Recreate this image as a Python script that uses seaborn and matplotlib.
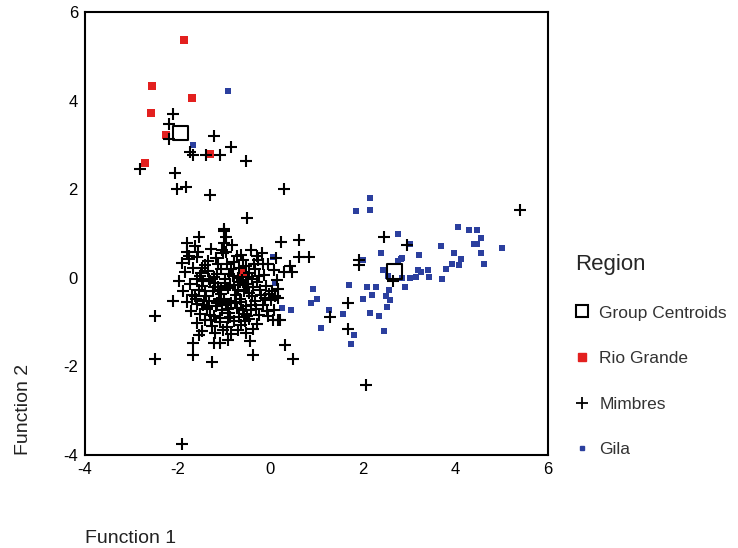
import matplotlib
matplotlib.use("Agg")
import matplotlib.pyplot as plt
import seaborn as sns
import pandas as pd
from matplotlib.lines import Line2D

# ---------------- data ----------------
rio_x = [-1.85, -2.56, -1.68, -2.57, -2.25, -1.30, -2.71, -0.59]
rio_y = [5.38, 4.32, 4.05, 3.72, 3.22, 2.79, 2.59, 0.14]

gila_x = [2.15, 1.85, 2.15, 2.76, 3.02, 2.40, 2.00, 2.83, 2.77, 3.21, 3.69, 4.05, 4.30,
          4.47, 4.56, 4.46, 4.41, 3.98, 4.12, 3.92, 4.07, 4.56, 4.62, 5.01, 3.79, 3.71,
          3.41, 3.44, 3.19, 3.16, 3.02, 2.91, 2.43, 2.54, 2.84, 1.70, 2.09, 2.29, 2.20,
          2.00, 2.57, 2.51, 2.59, 2.53, 2.15, 2.35, 2.47, 1.58, 1.27, 0.93, 1.02, 0.88,
          1.09, 1.82, 1.75, 0.45, 0.25, 0.06, 0.11, 3.25, 2.84, -0.90, -1.66]
gila_y = [1.81, 1.51, 1.53, 0.99, 0.76, 0.56, 0.39, 0.43, 0.38, 0.52, 0.71, 1.15, 1.08,
          1.08, 0.90, 0.76, 0.76, 0.56, 0.43, 0.32, 0.28, 0.56, 0.32, 0.68, 0.20, -0.02,
          0.18, 0.02, 0.17, 0.02, -0.01, -0.20, 0.18, 0.03, -0.01, -0.16, -0.20, -0.20, -0.38,
          -0.47, -0.27, -0.42, -0.51, -0.65, -0.80, -0.87, -1.20, -0.81, -0.72, -0.26, -0.47, -0.57,
          -1.14, -1.29, -1.49, -0.72, -0.68, 0.47, -0.12, 0.14, 0.44, 4.21, 3.00]

# Mimbres: outlying points
mim_out_x = [-2.09, -2.18, -2.18, -1.21, -0.85, -1.74, -1.66, -1.38, -1.08, -0.52, -2.81,
             -2.06, -2.02, -1.82, -1.30, 0.29, -0.50, -0.99, 5.40, 2.45, 2.95, 1.91, 1.91,
             2.66, 1.69, 1.30, 1.68, 0.24, 0.63, 0.63, 0.85, 0.43, 0.29, 0.47, 0.32, 0.50,
             0.11, 0.18, 0.09, 0.18, 0.06, 2.08, -1.91, -1.53, -1.80, -1.80, -1.76, -0.99,
             -0.96, -0.99, -1.04, -0.96, -0.29, -2.09, -2.48, -2.48, -1.66, -1.26, -0.38,
             -1.66, -1.53, -1.22, -1.08, -0.90, -0.43, 0.22, -0.04]
mim_out_y = [3.70, 3.48, 3.13, 3.19, 2.96, 2.83, 2.78, 2.78, 2.78, 2.64, 2.45,
             2.36, 2.00, 2.04, 1.87, 2.01, 1.35, 1.10, 1.53, 0.92, 0.74, 0.39, 0.29,
             -0.07, -0.56, -0.89, -1.15, 0.80, 0.86, 0.47, 0.47, 0.26, 0.14, 0.14, -1.51, -1.84,
             -0.42, -0.46, -0.72, -0.95, -0.95, -2.42, -3.75, 0.93, 0.78, 0.59, 0.48, 1.05,
             0.93, 0.78, 0.63, 0.59, 0.48, -0.53, -0.87, -1.84, -1.74, -1.90, -1.74,
             -1.47, -1.29, -1.47, -1.47, -1.40, -1.44, -0.95, -0.87]

# Mimbres: dense core
mim_core_x = [-1.62, -1.28, -0.82, -0.63, -0.41, -0.18,
              -1.91, -1.57, -1.41, -1.17, -0.93, -0.71, -0.52, -0.27, -0.04, 0.12,
              -1.83, -1.66, -1.52, -1.34, -1.21, -1.06, -0.88, -0.67, -0.46, -0.33, -0.13, 0.08,
              -1.97, -1.74, -1.58, -1.47, -1.29, -1.13, -0.97, -0.79, -0.61, -0.48, -0.28, -0.09, 0.14,
              -1.88, -1.69, -1.54, -1.38, -1.24, -1.05, -0.91, -0.74, -0.57, -0.39, -0.21, -0.02, 0.18,
              -1.79, -1.61, -1.45, -1.31, -1.16, -0.99, -0.84, -0.66, -0.51, -0.33, -0.16, 0.03,
              -1.70, -1.52, -1.37, -1.21, -1.03, -0.87, -0.72, -0.56, -0.42, -0.24, -0.07,
              -1.58, -1.41, -1.26, -1.09, -0.93, -0.78, -0.62, -0.46, -0.29,
              -1.47, -1.19, -1.01, -0.84, -0.69, -0.52, -0.37,
              -1.35, -1.02, -0.78, -0.58, -1.45, -1.18, -0.70, -0.40, -1.62, -1.10, -0.95,
              -0.62, -0.45, -1.28, -0.88, -0.55, -1.75, -0.25, -0.12, -0.30, -1.42, -1.12,
              -0.85, -1.55, -0.15,
              -1.50, -1.33, -1.15, -0.98, -0.80, -0.64, -0.47, -1.40, -1.22, -1.05, -0.87,
              -0.70, -0.53, -0.36, -1.57, -1.36, -1.14, -0.92, -0.75, -0.58, -0.41, -1.30,
              -1.08, -0.90, -0.68, -0.50, -1.48, -0.35, -0.20, 0.05]
mim_core_y = [0.71, 0.66, 0.74, 0.52, 0.63, 0.55,
              0.33, 0.47, 0.29, 0.45, 0.31, 0.48, 0.27, 0.39, 0.31, 0.44,
              0.12, 0.21, 0.05, 0.16, 0.02, 0.19, 0.09, 0.23, 0.11, 0.20, 0.06, 0.17,
              -0.07, -0.15, -0.02, -0.19, -0.08, -0.21, -0.04, -0.16, -0.06, -0.22, -0.09, -0.18, -0.05,
              -0.31, -0.38, -0.27, -0.41, -0.29, -0.36, -0.24, -0.39, -0.30, -0.42, -0.28, -0.37, -0.26,
              -0.55, -0.48, -0.61, -0.52, -0.64, -0.49, -0.58, -0.47, -0.63, -0.53, -0.61, -0.50,
              -0.76, -0.83, -0.71, -0.86, -0.74, -0.88, -0.69, -0.81, -0.72, -0.84, -0.75,
              -1.02, -0.96, -1.08, -0.99, -1.11, -0.97, -1.06, -0.94, -1.04,
              -1.21, -1.24, -1.18, -1.27, -1.19, -1.25, -1.16,
              0.38, 0.55, 0.35, 0.40, -0.08, -0.13, 0.00, -0.03, -0.42, -0.47, -0.62,
              -0.55, -0.35, -0.96, -0.80, -0.98, 0.42, 0.05, -0.45, -0.70, -0.52, 0.30,
              0.20, 0.58, 0.30,
              0.10, -0.02, 0.09, -0.12, 0.04, -0.10, 0.02, -0.30, -0.20, -0.28, -0.17,
              -0.27, -0.14, -0.21, -0.60, -0.67, -0.57, -0.70, -0.56, -0.72, -0.62, -0.85,
              -0.90, -0.92, -0.88, -0.86, 0.22, 0.30, -0.40, -0.30]

cent_x = [-1.94, -0.92, 2.68]
cent_y = [3.27, -0.35, 0.14]

x_ticks = [-4, -2, 0, 2, 4, 6]
y_ticks = [-4, -2, 0, 2, 4, 6]

# ---------------- build tables ----------------
df_gila = pd.DataFrame({"f1": gila_x, "f2": gila_y})
df_rio = pd.DataFrame({"f1": rio_x, "f2": rio_y})
df_mim = pd.DataFrame({"f1": mim_out_x + mim_core_x, "f2": mim_out_y + mim_core_y})
df_cent = pd.DataFrame({"f1": cent_x, "f2": cent_y})

# ---------------- plot ----------------
sns.set_theme(style="white")
plt.rcParams["font.family"] = ["Liberation Sans", "DejaVu Sans"]

fig = plt.figure(figsize=(7.38, 5.48), dpi=100)
ax = fig.add_axes([0.115, 0.170, 0.6275, 0.808])

blue = "#2b3f9e"
red = "#e3201f"

sns.scatterplot(data=df_gila, x="f1", y="f2", ax=ax, marker="s", s=14,
                color=blue, edgecolor=blue, linewidth=0, legend=False, zorder=2)
sns.scatterplot(data=df_rio, x="f1", y="f2", ax=ax, marker="s", s=38,
                color=red, edgecolor=red, linewidth=0, legend=False, zorder=3)
sns.scatterplot(data=df_mim, x="f1", y="f2", ax=ax, marker="+", s=70,
                color="black", linewidth=1.5, legend=False, zorder=4)
sns.scatterplot(data=df_cent, x="f1", y="f2", ax=ax, marker="s", s=110,
                facecolor="none", edgecolor="black", linewidth=1.5, legend=False, zorder=5)

ax.set_xlim(-4, 6)
ax.set_ylim(-4, 6)
ax.set_xticks(x_ticks)
ax.set_yticks(y_ticks)
ax.set_xticklabels([str(t) for t in x_ticks])
ax.set_yticklabels([str(t) for t in y_ticks])
ax.tick_params(axis="both", which="both", direction="out", length=3, width=1.2,
               labelsize=12, colors="black", pad=2)
for sp in ax.spines.values():
    sp.set_visible(True)
    sp.set_color("black")
    sp.set_linewidth(1.5)

ax.set_xlabel("Function 1", fontsize=14, loc="left", labelpad=38, color="#222222")
ax.set_ylabel("Function 2", fontsize=14, loc="bottom", labelpad=22, color="#222222")

handles = [
    Line2D([], [], linestyle="none", marker="s", markersize=8, markerfacecolor="none",
           markeredgecolor="black", markeredgewidth=1.5),
    Line2D([], [], linestyle="none", marker="s", markersize=6, markerfacecolor=red,
           markeredgecolor=red),
    Line2D([], [], linestyle="none", marker="+", markersize=9, color="black",
           markeredgewidth=1.3),
    Line2D([], [], linestyle="none", marker="s", markersize=3, markerfacecolor=blue,
           markeredgecolor=blue),
]
labels = ["Group Centroids", "Rio Grande", "Mimbres", "Gila"]
leg = fig.legend(handles, labels, title="Region", loc="upper left",
                 bbox_to_anchor=(0.758, 0.565), frameon=False, fontsize=12.5,
                 title_fontsize=16, labelspacing=1.75, handlelength=0.8,
                 handletextpad=0.6, alignment="left")
for t in leg.get_texts():
    t.set_color("#333333")

fig.savefig("out.png", dpi=100)
